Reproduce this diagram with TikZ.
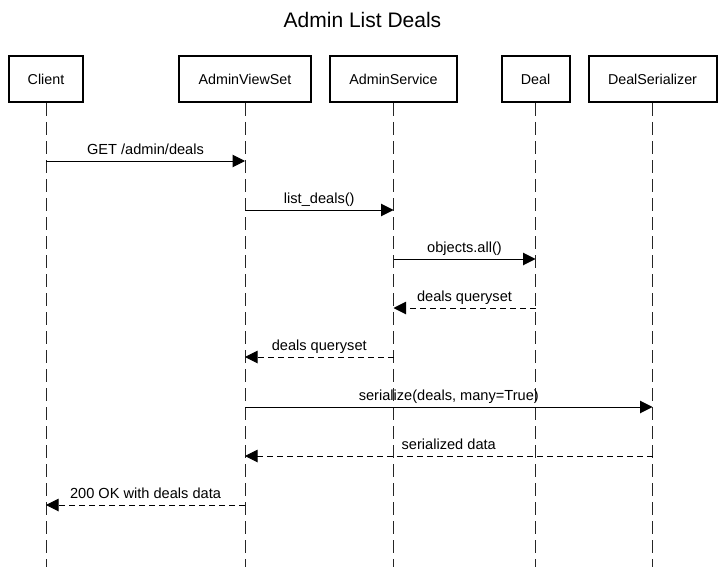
\documentclass[tikz,border=0pt]{standalone}
\usepackage{fontspec}
\setmainfont{Liberation Sans}
\usetikzlibrary{arrows.meta}

\begin{document}
\begin{tikzpicture}[
            x=1pt,
            y=-1pt,
            actor/.style={draw=black, line width=2pt, minimum height=46pt, inner sep=0pt, font=\fontsize{14.3}{16}\selectfont},
            lifeline/.style={draw=black!85, line width=1pt, dash pattern=on 13pt off 6pt},
            call/.style={line width=1pt, -{Triangle[length=12.5pt, width=12.5pt]}},
            reply/.style={call, dash pattern=on 6pt off 4pt},
            msglabel/.style={anchor=base, yshift=7pt, font=\fontsize{14.6}{16}\selectfont}
        ]

        \useasboundingbox (0,0) rectangle (725,567);

        % title
        \node[font=\fontsize{21}{24}\selectfont] (title) at (362.5, 20) {Admin List Deals};

        % participants
        \node[actor, minimum width=74pt] (client) at (46, 79) {Client};
        \node[actor, minimum width=132pt] (viewset) at (245, 79) {AdminViewSet};
        \node[actor, minimum width=127pt] (service) at (393.5, 79) {AdminService};
        \node[actor, minimum width=68pt] (deal) at (535.5, 79) {Deal};
        \node[actor, minimum width=128pt] (serializer) at (652.5, 79) {DealSerializer};

        \coordinate (bottom) at (0, 567);

        % lifelines
        \draw[lifeline] (client.south) -- (client.south |- bottom);
        \draw[lifeline] (viewset.south) -- (viewset.south |- bottom);
        \draw[lifeline] (service.south) -- (service.south |- bottom);
        \draw[lifeline] (deal.south) -- (deal.south |- bottom);
        \draw[lifeline] (serializer.south) -- (serializer.south |- bottom);

        % message rows
        \coordinate (m1) at (0, 161);
        \coordinate (m2) at (0, 210);
        \coordinate (m3) at (0, 259);
        \coordinate (m4) at (0, 308);
        \coordinate (m5) at (0, 357);
        \coordinate (m6) at (0, 407);
        \coordinate (m7) at (0, 456);
        \coordinate (m8) at (0, 505);

        % messages
        \draw[call] (client |- m1) -- node[msglabel] {GET /admin/deals} (viewset |- m1);
        \draw[call] (viewset |- m2) -- node[msglabel] {list\_deals()} (service |- m2);
        \draw[call] (service |- m3) -- node[msglabel] {objects.all()} (deal |- m3);
        \draw[reply] (deal |- m4) -- node[msglabel] {deals queryset} (service |- m4);
        \draw[reply] (service |- m5) -- node[msglabel] {deals queryset} (viewset |- m5);
        \draw[call] (viewset |- m6) -- node[msglabel] {serialize(deals, many=True)} (serializer |- m6);
        \draw[reply] (serializer |- m7) -- node[msglabel] {serialized data} (viewset |- m7);
        \draw[reply] (viewset |- m8) -- node[msglabel] {200 OK with deals data} (client |- m8);

        \end{tikzpicture}
\end{document}
